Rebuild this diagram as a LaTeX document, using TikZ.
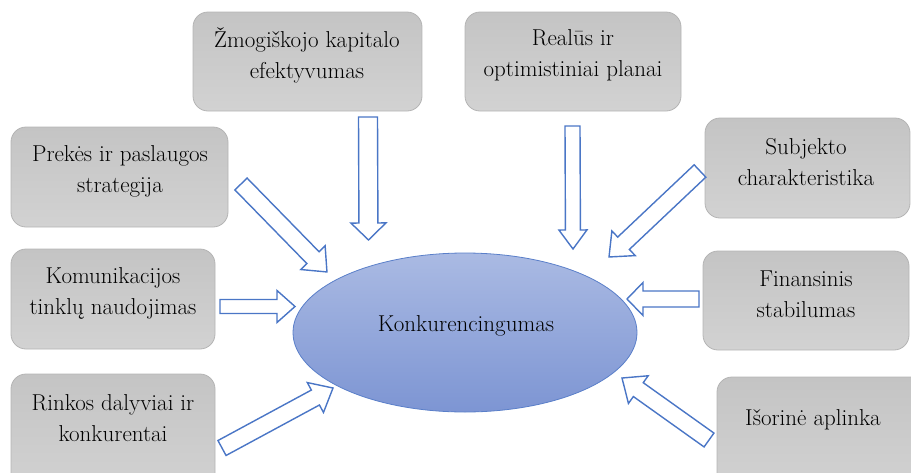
\documentclass[tikz,border=0pt]{standalone}
\usetikzlibrary{calc}
\definecolor{arrowblue}{HTML}{4A76C6}
\definecolor{boxtop}{HTML}{C4C4C4}
\definecolor{boxbot}{HTML}{D2D2D2}
\definecolor{boxline}{HTML}{B4B4B4}
\definecolor{elltop}{HTML}{AABAE3}
\definecolor{ellbot}{HTML}{7D95D3}
\definecolor{ellline}{HTML}{5A7FC9}
\tikzset{
  factorbox/.style={draw=boxline, line width=0.8pt, rounded corners=15pt,
    top color=boxtop, bottom color=boxbot},
  factortext/.style={align=center, font=\fontsize{23}{31}\selectfont, text=black},
  centreell/.style={draw=ellline, line width=0.8pt, top color=elltop, bottom color=ellbot},
  blockarrow/.style={draw=arrowblue, line width=1.4pt, fill=white, line join=miter}
}
% #1 tail, #2 tip, #3 shaft half width, #4 head half width, #5 head length
\newcommand\barrow[5]{%
  \draw[blockarrow] let \p1=(#1), \p2=(#2),
    \n1={atan2(\y2-\y1,\x2-\x1)}, \n2={veclen(\x2-\x1,\y2-\y1)} in
    [shift={(\p1)}, rotate=\n1]
    (0pt,-#3) -- (\n2-#5,-#3) -- (\n2-#5,-#4) -- (\n2,0pt)
    -- (\n2-#5,#4) -- (\n2-#5,#3) -- (0pt,#3) -- cycle;}
\begin{document}
\begin{tikzpicture}[x=1pt,y=-1pt]
\useasboundingbox (0,0) rectangle (911,472);
\clip (0,0) rectangle (911,472);
% boxes
\path[factorbox] (193,12) rectangle (422,111) node[pos=0.5] (zmb) {};
\path[factorbox] (465,12) rectangle (681,111) node[pos=0.5] (reb) {};
\path[factorbox] (11,127) rectangle (228,227) node[pos=0.5] (prb) {};
\path[factorbox] (705,118) rectangle (910,218) node[pos=0.5] (sub) {};
\path[factorbox] (11,249) rectangle (215,349) node[pos=0.5] (kob) {};
\path[factorbox] (703,251) rectangle (909,350) node[pos=0.5] (fib) {};
\path[factorbox] (11,374) rectangle (215,490) node[pos=0.5] (rib) {};
\path[factorbox] (717,377) rectangle (930,490) node[pos=0.5] (isb) {};
% texts
\node[factortext] (zm) at (307,55) {Žmogiškojo kapitalo\\efektyvumas};
\node[factortext] (re) at (573,55) {Realūs ir\\optimistiniai planai};
\node[factortext] (pr) at (120,171) {Prekės ir paslaugos\\strategija};
\node[factortext] (su) at (806,162) {Subjekto\\charakteristika};
\node[factortext] (ko) at (113,293) {Komunikacijos\\tinklų naudojimas};
\node[factortext] (fi) at (806,294) {Finansinis\\stabilumas};
\node[factortext] (ri) at (113,418) {Rinkos dalyviai ir\\konkurentai};
\node[factortext] (is) at (813,420) {Išorinė aplinka};
% centre
\path[centreell] (465,332.5) ellipse [x radius=172, y radius=79.5];
\node[factortext] (kc) at (466,326) {Konkurencingumas};
% arrow ends
\coordinate (zmT) at (368,117);  \coordinate (zmH) at (368.5,240);
\coordinate (reT) at (572.5,126);  \coordinate (reH) at (573,249);
\coordinate (prT) at (241,184);  \coordinate (prH) at (327,272);
\coordinate (suT) at (700,171);  \coordinate (suH) at (609,257);
\coordinate (koT) at (220,306.5);  \coordinate (koH) at (295,306.5);
\coordinate (fiT) at (699,299);  \coordinate (fiH) at (627,299);
\coordinate (riT) at (222,448);  \coordinate (riH) at (333,388);
\coordinate (isT) at (709,440);  \coordinate (isH) at (622,378);
\barrow{zmT}{zmH}{9.5pt}{17.5pt}{17pt}
\barrow{reT}{reH}{7.5pt}{14pt}{19pt}
\barrow{prT}{prH}{8.5pt}{17pt}{20pt}
\barrow{suT}{suH}{8.5pt}{17pt}{20pt}
\barrow{koT}{koH}{7pt}{16pt}{18pt}
\barrow{fiT}{fiH}{8pt}{16.5pt}{16pt}
\barrow{riT}{riH}{8.5pt}{17pt}{20pt}
\barrow{isT}{isH}{8.5pt}{17pt}{20pt}
\end{tikzpicture}
\end{document}
